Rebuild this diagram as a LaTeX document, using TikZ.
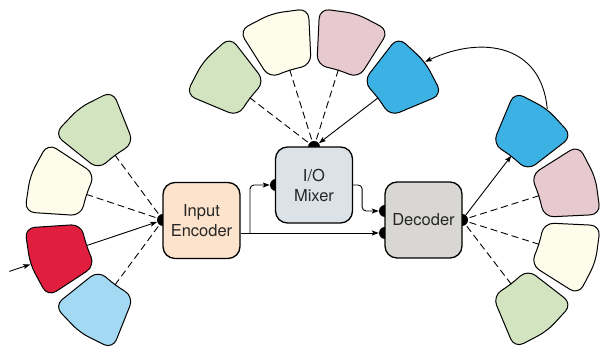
\documentclass[tikz,border=0pt]{standalone}
\usepackage{fontspec}
\setmainfont{TeX Gyre Heros}
\usetikzlibrary{arrows.meta,calc}
\definecolor{tgreen}{HTML}{D3E4C0}
\definecolor{tcream}{HTML}{FEFDEB}
\definecolor{tred}{HTML}{E21E3E}
\definecolor{tlblue}{HTML}{A3D9F2}
\definecolor{tpink}{HTML}{E6CACF}
\definecolor{tblue}{HTML}{3CB1E3}
\definecolor{cenc}{HTML}{FDE3CB}
\definecolor{cmix}{HTML}{DCE3E8}
\definecolor{cdec}{HTML}{D8D7D3}
\tikzset{
  tile/.style={draw=black, line width=1pt, rounded corners=10pt},
  box/.style={draw=black, line width=1.3pt, rounded corners=12pt, minimum width=77pt,
    minimum height=76pt, align=center, inner sep=0pt, text=black!85,
    font=\fontsize{16.5}{20}\selectfont},
  hubdot/.style={circle, fill=black, inner sep=0pt, minimum size=12pt},
  dashline/.style={draw=black, line width=0.9pt, dash pattern=on 7pt off 4pt},
  arrline/.style={draw=black, line width=0.9pt, -{Stealth[length=7pt,width=5pt,inset=1.5pt]}},
}
\newcommand\fantile[4]{%
  \begin{scope}[shift={(#1)}, rotate=#2]
    \draw[tile, fill=#3] (-15.5:82) -- (0:81) -- (15.5:82) -- (15.2:138.5) -- (0:140) -- (-15.2:138.5) -- cycle;
    \coordinate (#4-in) at (0:81);
    \coordinate (#4-out) at (0:140);
    \coordinate (#4-far) at (0:162);
  \end{scope}}
\begin{document}
\begin{tikzpicture}[x=1pt,y=1pt]
\useasboundingbox (0,0) rectangle (600,352);
% hub dots
\node[hubdot] (encdot) at (163,132) {};
\node[hubdot] (mixtop) at (314,205) {};
\node[hubdot] (mixleft) at (276,167) {};
\node[hubdot] (decright) at (462,132) {};
\node[hubdot] (decinA) at (385,141) {};
\node[hubdot] (decinB) at (385,119) {};
% boxes
\node[box, fill=cenc] (enc) at (201.5,131.5) {Input\\Encoder};
\node[box, fill=cmix] (mix) at (314,167) {I/O\\Mixer};
\node[box, fill=cdec] (dec) at (423.5,132) {Decoder};
% tiles
\fantile{encdot}{126.5}{tgreen}{e1}
\fantile{encdot}{161.5}{tcream}{e2}
\fantile{encdot}{198.5}{tred}{e3}
\fantile{encdot}{233.5}{tlblue}{e4}
\fantile{mixtop}{142.5}{tgreen}{m1}
\fantile{mixtop}{107.5}{tcream}{m2}
\fantile{mixtop}{72.5}{tpink}{m3}
\fantile{mixtop}{37.5}{tblue}{m4}
\fantile{decright}{52.5}{tblue}{d1}
\fantile{decright}{17.5}{tpink}{d2}
\fantile{decright}{-17.5}{tcream}{d3}
\fantile{decright}{-52.5}{tgreen}{d4}
% fan connectors
\draw[dashline] (e1-in) -- (encdot);
\draw[dashline] (e2-in) -- (encdot);
\draw[arrline] (e3-in) -- (encdot);
\draw[dashline] (e4-in) -- (encdot);
\draw[dashline] (m1-in) -- (mixtop);
\draw[dashline] (m2-in) -- (mixtop);
\draw[dashline] (m3-in) -- (mixtop);
\draw[arrline] (m4-in) -- (mixtop);
\draw[arrline] (decright) -- (d1-in);
\draw[dashline] (d2-in) -- (decright);
\draw[dashline] (d3-in) -- (decright);
\draw[dashline] (d4-in) -- (decright);
\draw[arrline] (e3-far) -- (e3-out);
\draw[arrline] (d1-out) to[out=95, in=25, looseness=1.25] (m4-out);
% middle connectors
\coordinate (split) at (250,119);
\draw[arrline] (enc.east |- decinB) -- (decinB);
\draw[arrline, rounded corners=4pt] (split) |- (mixleft);
\draw[arrline, rounded corners=4pt] (mix.east) -- ++(9,0) |- (decinA);
\end{tikzpicture}
\end{document}
